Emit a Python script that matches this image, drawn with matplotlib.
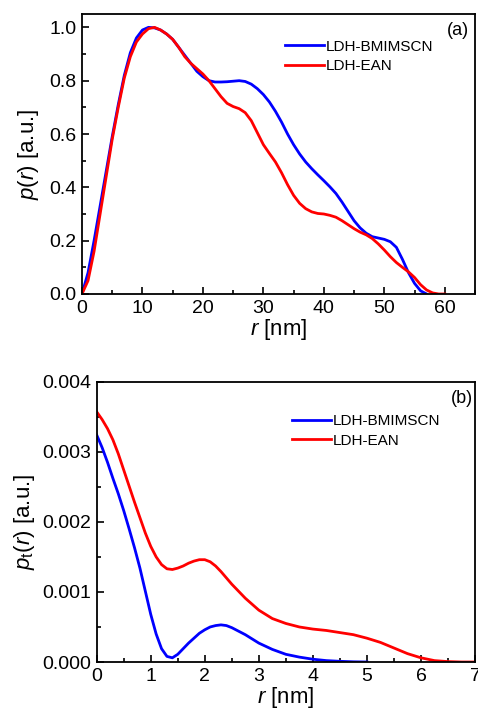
import numpy as np
import matplotlib.pyplot as plt
from matplotlib.ticker import MultipleLocator

plt.rcParams['font.family'] = ['Liberation Sans', 'DejaVu Sans']
plt.rcParams['mathtext.fontset'] = 'custom'
plt.rcParams['mathtext.rm'] = 'Liberation Sans'
plt.rcParams['mathtext.it'] = 'Liberation Sans:italic'

# (a) pair distance distribution
r_a = [0, 1, 2, 3, 4, 5, 6, 7, 8, 9, 10, 11, 12, 13, 14, 15, 16, 17, 18, 19, 20,
       21, 22, 23, 24, 25, 26, 27, 28, 29, 30, 31, 32, 33, 34, 35, 36, 37, 38, 39,
       40, 41, 42, 43, 44, 45, 46, 47, 48, 49, 50, 51, 52, 53, 54, 55, 56, 57]
p_bmim = [0.0, 0.08, 0.2, 0.33, 0.46, 0.59, 0.71, 0.82, 0.905, 0.96, 0.99, 1.0, 0.998,
          0.99, 0.975, 0.955, 0.925, 0.895, 0.865, 0.835, 0.815, 0.80, 0.795, 0.795,
          0.796, 0.798, 0.80, 0.797, 0.787, 0.77, 0.748, 0.72, 0.685, 0.645, 0.60,
          0.56, 0.525, 0.495, 0.47, 0.447, 0.425, 0.402, 0.377, 0.345, 0.31, 0.275,
          0.248, 0.228, 0.215, 0.21, 0.205, 0.196, 0.175, 0.13, 0.08, 0.04, 0.012, 0.0]
r_b = [0, 1, 2, 3, 4, 5, 6, 7, 8, 9, 10, 11, 12, 13, 14, 15, 16, 17, 18, 19, 20,
       21, 22, 23, 24, 25, 26, 27, 28, 29, 30, 31, 32, 33, 34, 35, 36, 37, 38, 39,
       40, 41, 42, 43, 44, 45, 46, 47, 48, 49, 50, 51, 52, 53, 54, 55, 56, 57, 58,
       59, 60]
p_ean = [0.0, 0.05, 0.16, 0.3, 0.44, 0.58, 0.7, 0.81, 0.89, 0.945, 0.975, 0.995, 1.0,
         0.99, 0.975, 0.955, 0.925, 0.89, 0.865, 0.845, 0.825, 0.8, 0.77, 0.74, 0.715,
         0.703, 0.695, 0.68, 0.65, 0.605, 0.56, 0.527, 0.495, 0.455, 0.41, 0.37,
         0.34, 0.32, 0.308, 0.302, 0.3, 0.295, 0.288, 0.275, 0.26, 0.245, 0.232, 0.222,
         0.208, 0.188, 0.165, 0.14, 0.118, 0.1, 0.083, 0.062, 0.035, 0.015, 0.004,
         0.0, 0.0]

# (b) thickness distribution
r_t1 = [0, 0.1, 0.2, 0.3, 0.4, 0.5, 0.6, 0.7, 0.8, 0.9, 1.0, 1.1, 1.2, 1.3, 1.4, 1.5,
        1.6, 1.7, 1.8, 1.9, 2.0, 2.1, 2.2, 2.3, 2.4, 2.5, 2.75, 3.0, 3.25, 3.5, 3.75,
        4.0, 4.25, 4.5, 4.75, 5.0]
pt_bmim = [0.00324, 0.00306, 0.00285, 0.00262, 0.00240, 0.00216, 0.00190, 0.00163,
           0.00134, 0.00101, 0.00068, 0.00040, 0.00019, 0.00008, 0.00006, 0.00011,
           0.00019, 0.00027, 0.00034, 0.00041, 0.00046, 0.00050, 0.00052, 0.00053,
           0.00052, 0.00049, 0.00039, 0.00027, 0.00018, 0.00011, 0.00007, 0.00004,
           0.00002, 0.00001, 0.000003, 0.0]
r_t2 = [0, 0.1, 0.2, 0.3, 0.4, 0.5, 0.6, 0.7, 0.8, 0.9, 1.0, 1.1, 1.2, 1.3, 1.4, 1.5,
        1.6, 1.7, 1.8, 1.9, 2.0, 2.1, 2.2, 2.3, 2.4, 2.5, 2.75, 3.0, 3.25, 3.5, 3.75,
        4.0, 4.25, 4.5, 4.75, 5.0, 5.25, 5.5, 5.75, 6.0, 6.25, 6.5, 6.75, 7.0]
pt_ean = [0.00357, 0.00346, 0.00333, 0.00317, 0.00297, 0.00274, 0.00251, 0.00228,
          0.00206, 0.00184, 0.00165, 0.00150, 0.00139, 0.00133, 0.00132, 0.00134,
          0.00137, 0.00141, 0.00144, 0.00146, 0.00146, 0.00143, 0.00137, 0.00129,
          0.00120, 0.00111, 0.00091, 0.00074, 0.00062, 0.00055, 0.00050, 0.00047,
          0.00045, 0.00042, 0.00039, 0.00034, 0.00028, 0.00020, 0.00012, 0.00006,
          0.00002, 0.000006, 0.0, 0.0]

fig = plt.figure(figsize=(4.78, 7.11), dpi=100)
ax1 = fig.add_axes([0.1715, 0.5865, 0.8222, 0.3938])
ax2 = fig.add_axes([0.2023, 0.0689, 0.7914, 0.3943])

ax1.plot(r_a, p_bmim, color='#0000ff', lw=2, label='LDH-BMIMSCN')
ax1.plot(r_b, p_ean, color='#ff0000', lw=2, label='LDH-EAN')
ax1.set_xlim(0, 65)
ax1.set_ylim(0, 1.05)
ax1.xaxis.set_major_locator(MultipleLocator(10))
ax1.xaxis.set_minor_locator(MultipleLocator(5))
ax1.yaxis.set_major_locator(MultipleLocator(0.2))
ax1.yaxis.set_minor_locator(MultipleLocator(0.1))
ax1.yaxis.set_major_formatter(plt.FormatStrFormatter('%.1f'))
ax1.set_xlabel('$r$ [nm]', fontsize=16, labelpad=0)
ax1.set_ylabel('$p$($r$) [a.u.]', fontsize=16, labelpad=6)
ax1.text(0.985, 0.97, '(a)', transform=ax1.transAxes, ha='right', va='top', fontsize=13)
ax1.legend(loc='upper right', bbox_to_anchor=(0.91, 0.93), frameon=False,
           fontsize=11, handlelength=2.6, handletextpad=0.1, borderaxespad=0,
           labelspacing=0.35)

ax2.plot(r_t1, pt_bmim, color='#0000ff', lw=2, label='LDH-BMIMSCN')
ax2.plot(r_t2, pt_ean, color='#ff0000', lw=2, label='LDH-EAN')
ax2.set_xlim(0, 7)
ax2.set_ylim(0, 0.004)
ax2.xaxis.set_major_locator(MultipleLocator(1))
ax2.xaxis.set_minor_locator(MultipleLocator(0.5))
ax2.yaxis.set_major_locator(MultipleLocator(0.001))
ax2.yaxis.set_minor_locator(MultipleLocator(0.0005))
ax2.yaxis.set_major_formatter(plt.FormatStrFormatter('%.3f'))
ax2.set_xlabel('$r$ [nm]', fontsize=16, labelpad=0)
ax2.set_ylabel('$p_\\mathrm{t}$($r$) [a.u.]', fontsize=16, labelpad=4)
ax2.text(0.995, 0.97, '(b)', transform=ax2.transAxes, ha='right', va='top', fontsize=13)
ax2.legend(loc='upper right', bbox_to_anchor=(0.925, 0.905), frameon=False,
           fontsize=11, handlelength=2.6, handletextpad=0.1, borderaxespad=0,
           labelspacing=0.35)

for ax in (ax1, ax2):
    ax.tick_params(which='both', direction='in', labelsize=14, width=1.2, pad=4)
    ax.tick_params(which='major', length=5)
    ax.tick_params(which='minor', length=3)
    for s in ax.spines.values():
        s.set_linewidth(1.3)

fig.savefig('out.png', dpi=100)
